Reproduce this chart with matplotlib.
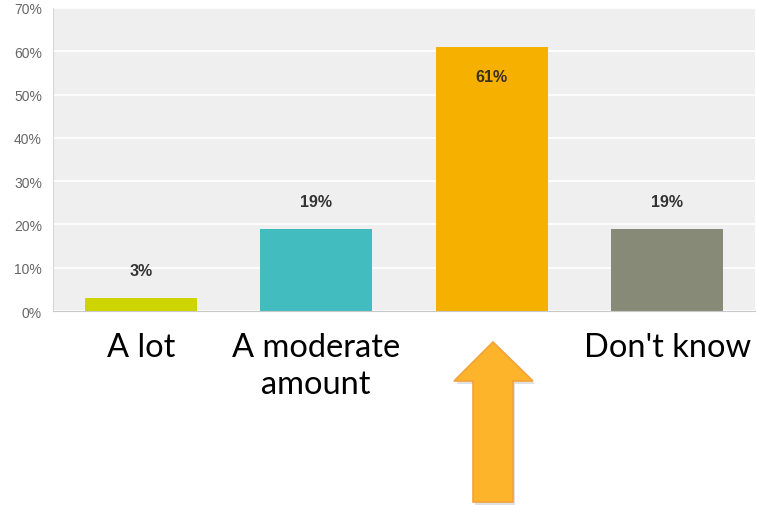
import matplotlib.pyplot as plt
from matplotlib.patches import Polygon

categories = ["A lot", "A moderate\namount", "", "Don't know"]
percent = [3, 19, 61, 19]
colors = ["#cdd400", "#43bcc0", "#f6b000", "#878a76"]
y_ticks = [0, 10, 20, 30, 40, 50, 60, 70]

W, H = 757, 506
fig = plt.figure(figsize=(W / 100, H / 100), dpi=100)
ax = fig.add_axes([53 / W, 1 - 312 / H, 702 / W, 303 / H])
ax.set_facecolor("#efefef")

x = range(len(categories))
ax.bar(x, percent, width=0.64, color=colors, zorder=2)

for i, v in zip(x, percent):
    if v > 55:
        # tall bar: label goes inside, near the top
        ax.text(i, v - 6.8, f"{v}%", ha="center", va="center", fontsize=11.5,
                fontweight="bold", color="#3a3020", family="Liberation Sans")
    else:
        ax.text(i, v + 6.4, f"{v}%", ha="center", va="center", fontsize=11.5,
                fontweight="bold", color="#333333", family="Liberation Sans")

ax.set_xlim(-0.5, 3.5)
ax.set_ylim(0, 70)
ax.set_yticks(y_ticks)
ax.set_yticklabels([f"{t}%" for t in y_ticks], fontsize=10, color="#666666",
                   family="Liberation Sans")
ax.yaxis.grid(True, color="white", linewidth=1.2, zorder=1)
ax.set_axisbelow(True)
ax.tick_params(axis="y", length=0, pad=8)

ax.set_xticks(list(x))
ax.set_xticklabels(categories, fontsize=23.5, family="Lato", color="black",
                   linespacing=1.3)
ax.tick_params(axis="x", length=0, pad=15)

for s in ["top", "right"]:
    ax.spines[s].set_visible(False)
ax.spines["left"].set_color("#d8d8d8")
ax.spines["bottom"].set_color("#c8c8c8")

# pointer arrow under the tallest bar (pixel coords from the top-left)
arrow_px = [(493, 343), (533, 382), (513, 382), (513, 503),
            (473, 503), (473, 382), (454, 382)]


def to_fig(pts, dx=0, dy=0):
    return [((px + dx) / W, 1 - (py + dy) / H) for px, py in pts]


fig.add_artist(Polygon(to_fig(arrow_px, 2, 3), closed=True,
                       transform=fig.transFigure, facecolor="#999999",
                       edgecolor="none", alpha=0.3))
fig.add_artist(Polygon(to_fig(arrow_px), closed=True,
                       transform=fig.transFigure, facecolor="#fdb32a",
                       edgecolor="#f2a33a", linewidth=1.2))

fig.savefig("out.png", dpi=100)
